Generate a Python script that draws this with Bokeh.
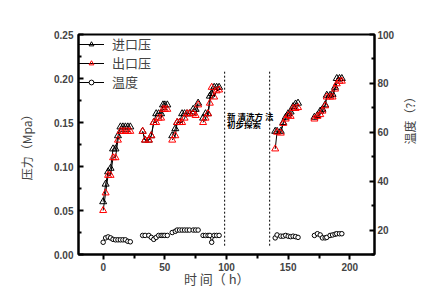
import math
from bokeh.plotting import figure
from bokeh.models import Range1d, LinearAxis, FixedTicker, Legend, LegendItem, NumeralTickFormatter
from bokeh.embed import file_html
from bokeh.resources import INLINE
from bokeh.core.properties import value

nan = float("nan")

# time (h), NaN separates the measurement runs
time_h = [0, 2, 4, 6, 8, 10, 12, 14, 16, 18, 20, 22, nan,
          32, 34, 37, 39, 41, 43, 45, 47, 48.5, 50, 52, nan,
          56, 58.5, 60, 62, 64, 66, 68, 70, 73, 75, 77, nan,
          81, 83, 85, 86.5, 88, 90, 92, 94, nan,
          139.5, 141, 144, 146, 148, 150, 152, 154, 156, 158, nan,
          171.3, 173.7, 176, 177.8, 180, 181.3, 184, 186, 188, 189.4, 191.6, 193.5]

inlet_mpa = [0.060, 0.080, 0.094, 0.098, 0.120, 0.120, 0.135, 0.145, 0.145, 0.145, 0.145, 0.145, nan,
             0.140, 0.130, 0.130, 0.135, 0.150, 0.160, 0.160, 0.160, 0.170, 0.170, 0.170, nan,
             0.135, 0.143, 0.150, 0.150, 0.160, 0.160, 0.160, 0.160, 0.165, 0.165, 0.172, nan,
             0.155, 0.160, 0.160, 0.180, 0.183, 0.190, 0.190, 0.190, nan,
             0.140, 0.140, 0.140, 0.150, 0.156, 0.160, 0.162, 0.168, 0.171, 0.172, nan,
             0.156, 0.158, 0.163, 0.165, 0.170, 0.181, 0.181, 0.182, 0.190, 0.200, 0.200, 0.200]

outlet_mpa = [0.050, 0.070, 0.090, 0.090, 0.110, 0.110, 0.130, 0.140, 0.140, 0.140, 0.140, 0.140, nan,
              0.140, 0.130, 0.130, 0.135, 0.150, 0.150, 0.155, 0.155, 0.165, 0.165, 0.165, nan,
              0.130, 0.135, 0.150, 0.150, 0.150, 0.155, 0.160, 0.160, 0.160, 0.158, 0.170, nan,
              0.150, 0.155, 0.160, 0.172, 0.190, 0.179, 0.186, 0.187, nan,
              0.120, 0.139, 0.138, 0.149, 0.154, 0.158, 0.157, 0.166, 0.166, 0.167, nan,
              0.154, 0.157, 0.159, 0.163, 0.169, 0.179, 0.179, 0.179, 0.188, 0.194, 0.197, 0.197]

temp_c = [15.0, 16.8, 17.2, 16.8, 16.2, 16.0, 16.0, 16.0, 16.0, 16.0, 15.4, 15.2, nan,
          17.8, 17.8, 17.8, 17.0, 16.2, 17.0, 17.8, 17.8, 17.8, 17.8, 17.8, nan,
          19.0, 19.5, 20.0, 20.0, 20.0, 20.0, 20.0, 20.0, 20.0, 20.0, 20.0, nan,
          17.8, 17.8, 17.8, 17.8, 15.0, 17.8, 17.8, 17.8, nan,
          16.8, 18.0, 17.5, 17.5, 17.8, 17.5, 17.3, 17.5, 17.3, 17.0, nan,
          17.8, 18.5, 18.0, 16.8, 16.8, 17.0, 17.8, 18.0, 18.3, 18.5, 18.5, 18.5]

event_times = [98.5, 135]
note_lines = ["新 清洗方 法", "初步探索"]

x_ticks = [0, 50, 100, 150, 200]
x_minor = [-25, 25, 75, 125, 175, 225]
p_ticks = [0.0, 0.05, 0.10, 0.15, 0.20, 0.25]
p_minor = [0.025, 0.075, 0.125, 0.175, 0.225]
t_ticks = [20, 40, 60, 80, 100]
t_minor = [10, 30, 50, 70, 90]

CJK = "Noto Sans CJK SC"
NUM = "Liberation Sans"

p = figure(width=434, height=305, output_backend="svg", toolbar_location=None,
           x_range=Range1d(-20, 220), y_range=Range1d(0, 0.25),
           min_border_left=78, min_border_right=60, min_border_top=34, min_border_bottom=51)
p.extra_y_ranges = {"temp": Range1d(10, 100)}
p.grid.visible = False
p.outline_line_color = "black"
p.outline_line_width = 2
p.background_fill_color = "white"
p.border_fill_color = "white"


def style_axis(ax, tin, tout, minin, minout, standoff):
    ax.major_tick_in = tin
    ax.major_tick_out = tout
    ax.minor_tick_in = minin
    ax.minor_tick_out = minout
    ax.axis_line_width = 2
    ax.major_tick_line_width = 2
    ax.minor_tick_line_width = 2
    ax.major_label_standoff = standoff
    ax.major_label_text_font = NUM
    ax.major_label_text_font_style = "bold"
    ax.major_label_text_font_size = "10px"
    ax.axis_label_text_font = CJK
    ax.axis_label_text_font_style = "normal"


# left axis
ya = p.yaxis[0]
ya.ticker = FixedTicker(ticks=p_ticks, minor_ticks=p_minor)
ya.formatter = NumeralTickFormatter(format="0.00")
style_axis(ya, 5, 0, 3, 0, 5)
ya.axis_label = "压力（Mpa）"
ya.axis_label_text_font_size = "12px"
ya.axis_label_standoff = 16

# bottom axis
xa = p.xaxis[0]
xa.ticker = FixedTicker(ticks=x_ticks, minor_ticks=x_minor)
style_axis(xa, 0, 5, 0, 4, 3)
xa.axis_label = "时 间（ h）\u3000\u3000"
xa.axis_label_text_font_size = "13px"
xa.axis_label_standoff = -5

# right axis
ra = LinearAxis(y_range_name="temp", ticker=FixedTicker(ticks=t_ticks, minor_ticks=t_minor))
style_axis(ra, 5, 0, 3, 0, 3)
ra.axis_label = "温度（?）"
ra.axis_label_text_font_size = "12px"
ra.axis_label_standoff = 12
try:
    ra.axis_label_orientation = math.pi / 2
except Exception:
    pass
try:
    ra.axis_label_text_align = "right"
except Exception:
    pass
p.add_layout(ra, "right")

# event lines
p.segment(x0=event_times, y0=[0.01] * len(event_times), x1=event_times, y1=[0.21] * len(event_times),
          line_color="black", line_width=1, line_dash="2 2")

# data
l_in = p.line(time_h, inlet_mpa, line_color="black", line_width=1)
s_in = p.scatter(time_h, inlet_mpa, marker="triangle", size=7, line_color="black",
                 fill_color=None, line_width=1)
l_out = p.line(time_h, outlet_mpa, line_color="black", line_width=1)
s_out = p.scatter(time_h, outlet_mpa, marker="triangle", size=7, line_color="red",
                  fill_color=None, line_width=1)
l_t = p.line(time_h, temp_c, line_color="black", line_width=1, y_range_name="temp")
s_t = p.scatter(time_h, temp_c, marker="circle", size=4.5, line_color="black",
                fill_color="white", line_width=1, y_range_name="temp")

# annotation
p.text(x=[100.5, 100.5], y=[0.164, 0.155], text=note_lines, text_font=value(CJK),
       text_font_style="bold", text_font_size="8.5px", text_baseline="top", text_align="left",
       text_color="black")

legend = Legend(items=[
    LegendItem(label="进口压", renderers=[l_in, s_in]),
    LegendItem(label="出口压", renderers=[l_out, s_out]),
    LegendItem(label="温度", renderers=[l_t, s_t]),
], location="top_left")
legend.border_line_color = None
legend.background_fill_alpha = 0
legend.margin = 0
legend.padding = 2
legend.spacing = 0
legend.glyph_width = 26
legend.glyph_height = 12
legend.label_height = 12
legend.label_standoff = 8
legend.label_text_font = CJK
legend.label_text_font_size = "13px"
legend.label_text_line_height = 1.0
p.add_layout(legend)

open("out.html", "w").write(file_html(p, INLINE))
